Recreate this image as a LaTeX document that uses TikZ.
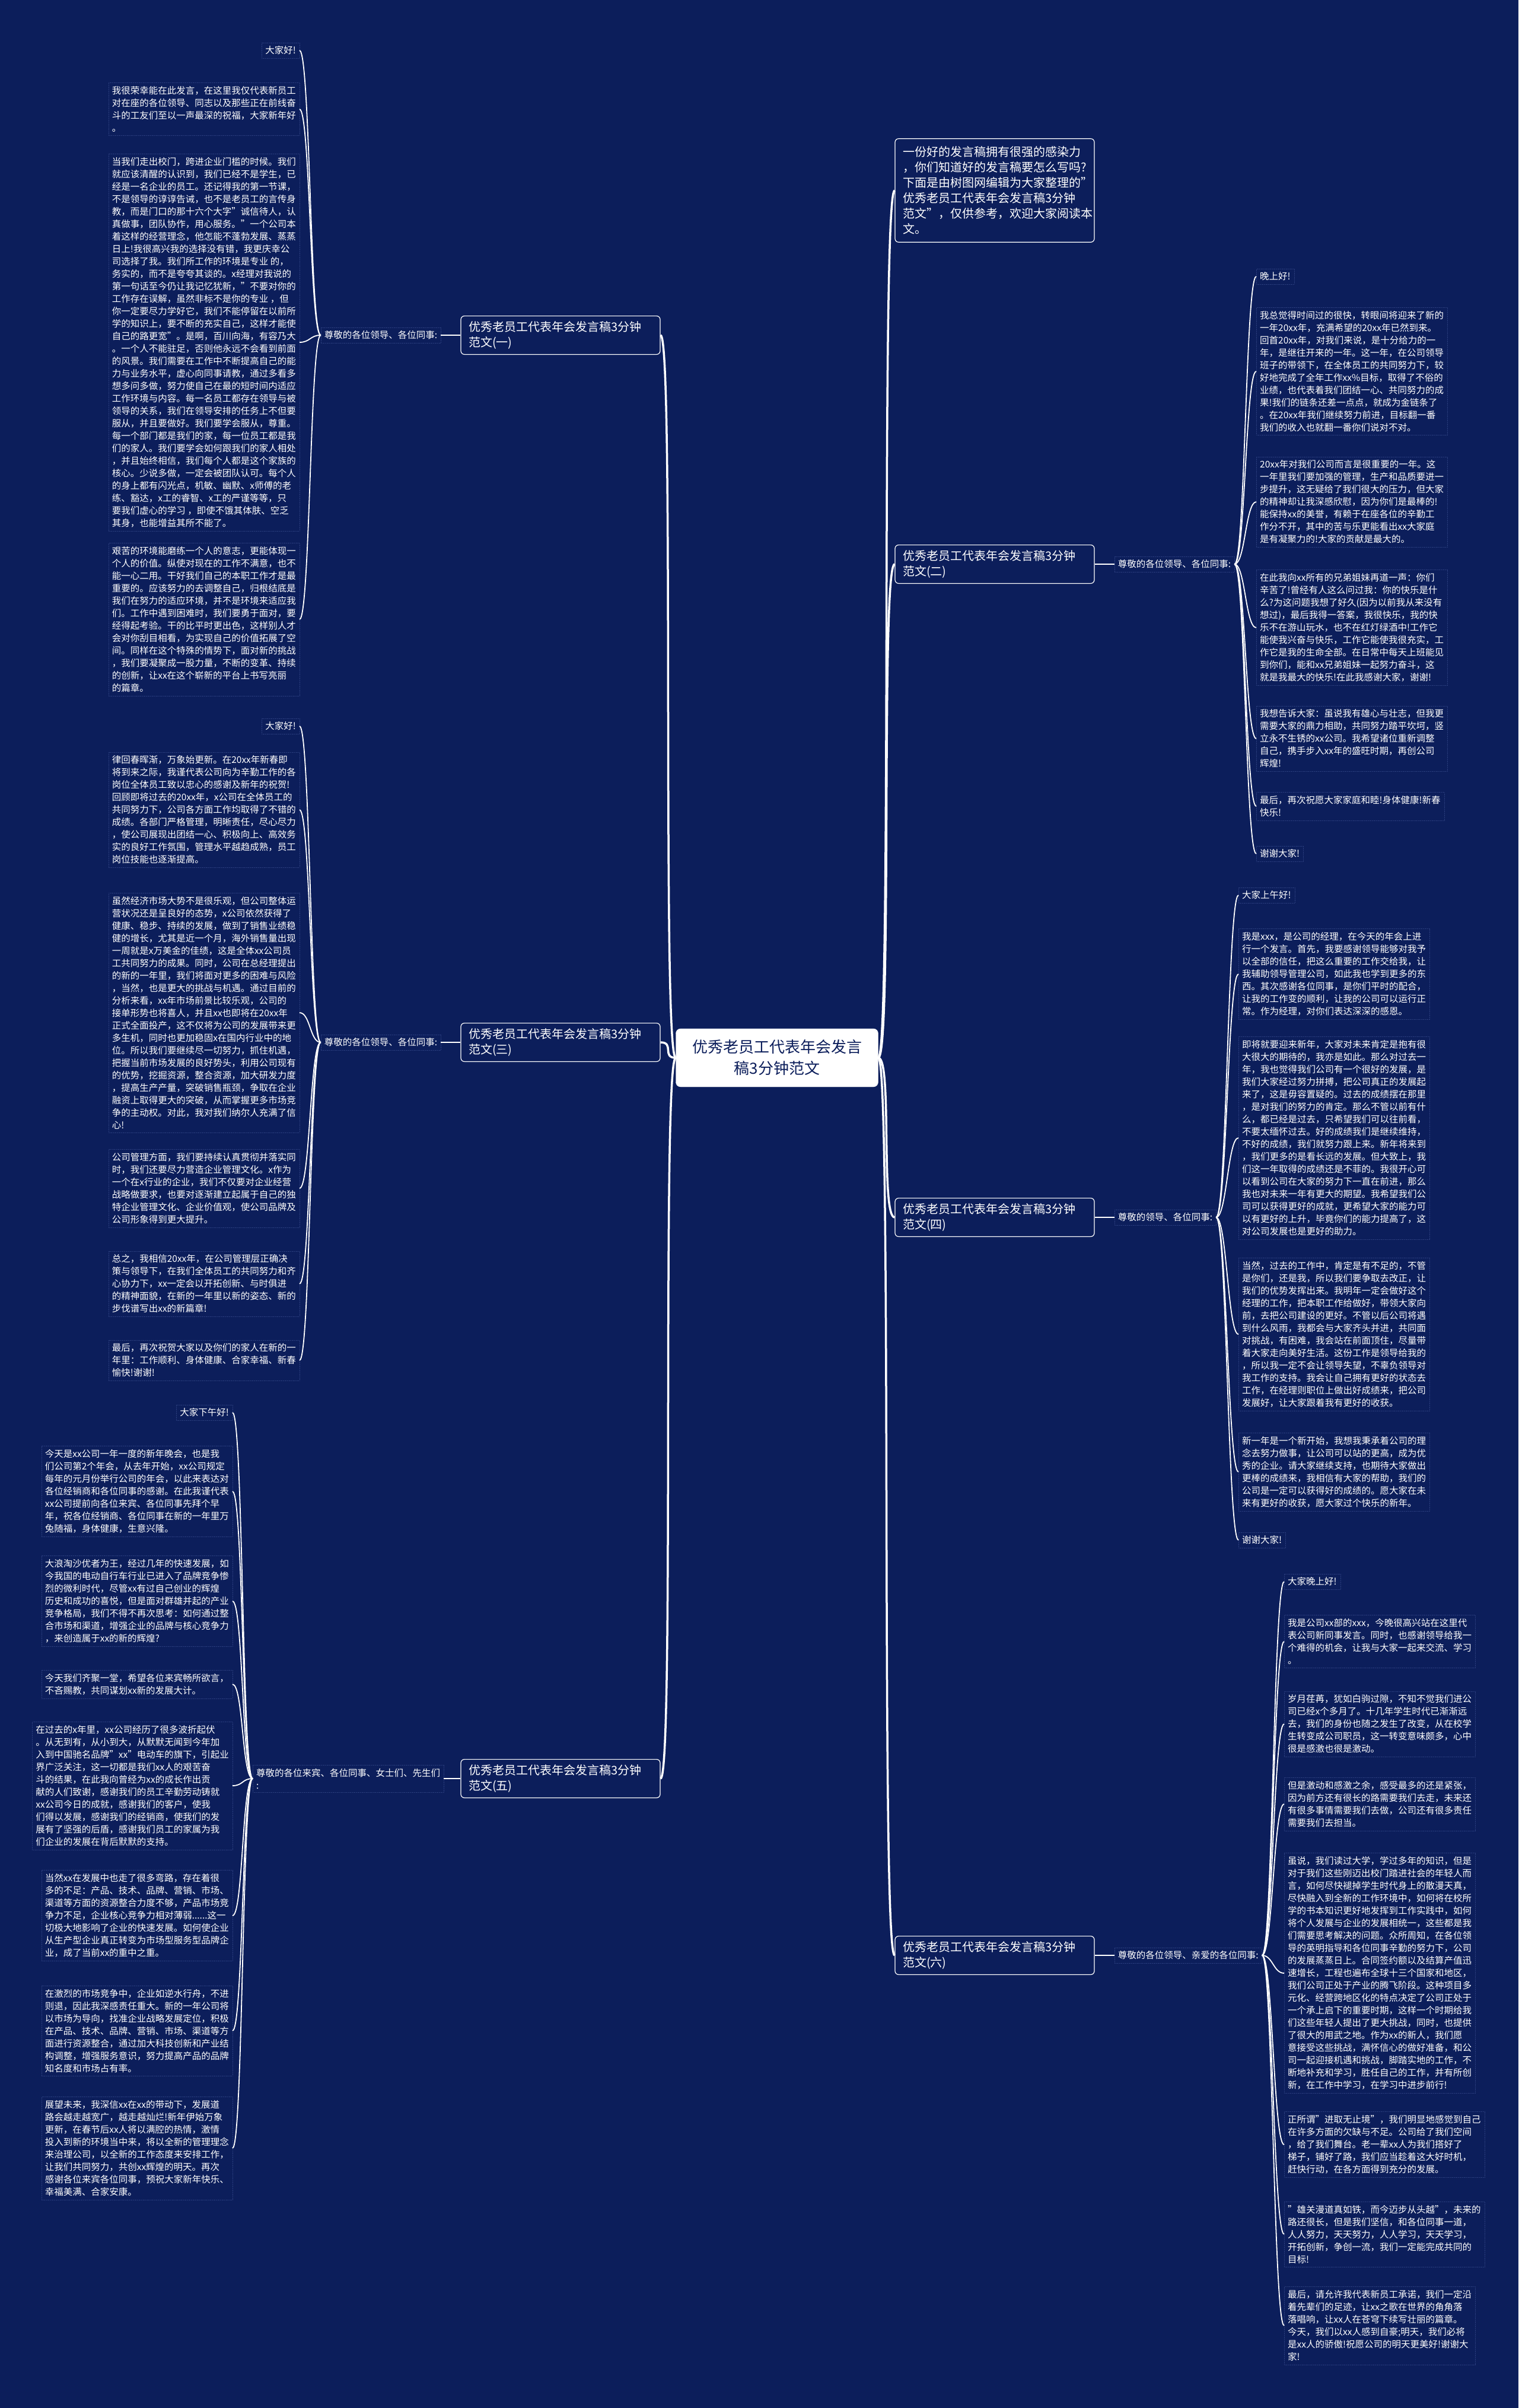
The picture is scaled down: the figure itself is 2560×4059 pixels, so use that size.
\documentclass[tikz,border=0pt]{standalone}
\usepackage{fontspec}
\setmainfont{Noto Sans CJK SC}
\usepackage{tikz}
\usetikzlibrary{positioning}
\definecolor{bg}{HTML}{0C1E5B}
\definecolor{edge}{HTML}{293C7C}

\begin{document}
\begin{tikzpicture}[x=1pt,y=-1pt]
		\tikzstyle{Root}	= [rectangle, rounded corners=8pt, draw=white, fill=white, text=bg, align=center, minimum width=341pt, minimum height=98pt, font=\fontsize{26}{36}\selectfont]
		\tikzstyle{Topic}	= [rectangle, rounded corners=6pt, draw=white, line width=1.2pt, fill=bg, text=white, align=left, text width=310pt, inner xsep=13pt, inner ysep=9pt, font=\fontsize{20}{26}\selectfont]
		\tikzstyle{Leaf}	= [rectangle, draw=edge, densely dotted, text=white, align=left, inner sep=6pt, font=\fontsize{15.5}{21}\selectfont]
		\tikzstyle{Trunk}	= [white, line width=3.5pt]
		\tikzstyle{Twig}	= [white, line width=1.8pt]

		\fill [bg] (0,0) rectangle (2560,4059);
		\useasboundingbox (0,0) rectangle (2560,4059);

		\node (root) at (1310,1783) [Root] {优秀老员工代表年会发言\\稿3分钟范文};

		\node (intro) at (1677,321) [Topic, inner ysep=13pt] {一份好的发言稿拥有很强的感染力\\，你们知道好的发言稿要怎么写吗?\\下面是由树图网编辑为大家整理的"\\优秀老员工代表年会发言稿3分钟\\范文"，仅供参考，欢迎大家阅读本\\文。};
		\node (b1) at (945,565) [Topic] {优秀老员工代表年会发言稿3分钟\\范文(一)};
		\node (b2) at (1677,951) [Topic] {优秀老员工代表年会发言稿3分钟\\范文(二)};
		\node (b3) at (945,1757) [Topic] {优秀老员工代表年会发言稿3分钟\\范文(三)};
		\node (b4) at (1677,2052) [Topic] {优秀老员工代表年会发言稿3分钟\\范文(四)};
		\node (b5) at (945,2998) [Topic] {优秀老员工代表年会发言稿3分钟\\范文(五)};
		\node (b6) at (1677,3296) [Topic] {优秀老员工代表年会发言稿3分钟\\范文(六)};

		\node (g1) [Leaf, left=33pt of b1] {尊敬的各位领导、各位同事:};
		\node (g2) [Leaf, right=33pt of b2] {尊敬的各位领导、各位同事:};
		\node (g3) [Leaf, left=33pt of b3] {尊敬的各位领导、各位同事:};
		\node (g4) [Leaf, right=33pt of b4] {尊敬的领导、各位同事:};
		\node (g5) [Leaf, left=28pt of b5] {尊敬的各位来宾、各位同事、女士们、先生们\\:};
		\node (g6) [Leaf, right=33pt of b6] {尊敬的各位领导、亲爱的各位同事:};

		% (一)
		\node (p1a) at (505,85) [Leaf, anchor=east] {大家好!};
		\node (p1b) at (505,184) [Leaf, anchor=east] {我很荣幸能在此发言，在这里我仅代表新员工\\对在座的各位领导、同志以及那些正在前线奋\\斗的工友们至以一声最深的祝福，大家新年好\\。};
		\node (p1c) at (505,577) [Leaf, anchor=east] {当我们走出校门，跨进企业门槛的时候。我们\\就应该清醒的认识到，我们已经不是学生，已\\经是一名企业的员工。还记得我的第一节课，\\不是领导的谆谆告诫，也不是老员工的言传身\\教，而是门口的那十六个大字"诚信待人，认\\真做事，团队协作，用心服务。"一个公司本\\着这样的经营理念，他怎能不蓬勃发展、蒸蒸\\日上!我很高兴我的选择没有错，我更庆幸公\\司选择了我。我们所工作的环境是专业 的，\\务实的，而不是夸夸其谈的。x经理对我说的\\第一句话至今仍让我记忆犹新，"不要对你的\\工作存在误解，虽然非标不是你的专业 ，但\\你一定要尽力学好它，我们不能停留在以前所\\学的知识上，要不断的充实自己，这样才能使\\自己的路更宽"。是啊，百川向海，有容乃大\\。一个人不能驻足，否则他永远不会看到前面\\的风景。我们需要在工作中不断提高自己的能\\力与业务水平，虚心向同事请教，通过多看多\\想多问多做，努力使自己在最的短时间内适应\\工作环境与内容。每一名员工都存在领导与被\\领导的关系，我们在领导安排的任务上不但要\\服从，并且要做好。我们要学会服从，尊重。\\每一个部门都是我们的家，每一位员工都是我\\们的家人。我们要学会如何跟我们的家人相处\\，并且始终相信，我们每个人都是这个家族的\\核心。少说多做，一定会被团队认可。每个人\\的身上都有闪光点，机敏、幽默、x师傅的老\\练、豁达，x工的睿智、x工的严谨等等，只\\要我们虚心的学习 ，即使不饿其体肤、空乏\\其身，也能增益其所不能了。};
		\node (p1d) at (505,1044) [Leaf, anchor=east] {艰苦的环境能磨练一个人的意志，更能体现一\\个人的价值。纵使对现在的工作不满意，也不\\能一心二用。干好我们自己的本职工作才是最\\重要的。应该努力的去调整自己，归根结底是\\我们在努力的适应环境，并不是环境来适应我\\们。工作中遇到困难时，我们要勇于面对，要\\经得起考验。干的比平时更出色，这样别人才\\会对你刮目相看，为实现自己的价值拓展了空\\间。同样在这个特殊的情势下，面对新的挑战\\，我们要凝聚成一股力量，不断的变革、持续\\的创新，让xx在这个崭新的平台上书写亮丽\\的篇章。};

		% (二)
		\node (p2a) at (2118,466) [Leaf, anchor=west] {晚上好!};
		\node (p2b) at (2118,626) [Leaf, anchor=west] {我总觉得时间过的很快，转眼间将迎来了新的\\一年20xx年，充满希望的20xx年已然到来。\\回首20xx年，对我们来说，是十分给力的一\\年，是继往开来的一年。这一年，在公司领导\\班子的带领下，在全体员工的共同努力下，较\\好地完成了全年工作xx\%目标，取得了不俗的\\业绩，也代表着我们团结一心、共同努力的成\\果!我们的链条还差一点点，就成为金链条了\\。在20xx年我们继续努力前进，目标翻一番\\我们的收入也就翻一番你们说对不对。};
		\node (p2c) at (2118,846) [Leaf, anchor=west] {20xx年对我们公司而言是很重要的一年。这\\一年里我们要加强的管理，生产和品质要进一\\步提升，这无疑给了我们很大的压力，但大家\\的精神却让我深感欣慰，因为你们是最棒的!\\能保持xx的美誉，有赖于在座各位的辛勤工\\作分不开，其中的苦与乐更能看出xx大家庭\\是有凝聚力的!大家的贡献是最大的。};
		\node (p2d) at (2118,1058) [Leaf, anchor=west] {在此我向xx所有的兄弟姐妹再道一声：你们\\辛苦了!曾经有人这么问过我：你的快乐是什\\么?为这问题我想了好久(因为以前我从来没有\\想过)，最后我得一答案，我很快乐，我的快\\乐不在游山玩水，也不在红灯绿酒中!工作它\\能使我兴奋与快乐，工作它能使我很充实，工\\作它是我的生命全部。在日常中每天上班能见\\到你们，能和xx兄弟姐妹一起努力奋斗，这\\就是我最大的快乐!在此我感谢大家，谢谢!};
		\node (p2e) at (2118,1245) [Leaf, anchor=west] {我想告诉大家：虽说我有雄心与壮志，但我更\\需要大家的鼎力相助，共同努力踏平坎坷，竖\\立永不生锈的xx公司。我希望诸位重新调整\\自己，携手步入xx年的盛旺时期，再创公司\\辉煌!};
		\node (p2f) at (2118,1359) [Leaf, anchor=west] {最后，再次祝愿大家家庭和睦!身体健康!新春\\快乐!};
		\node (p2g) at (2118,1439) [Leaf, anchor=west] {谢谢大家!};

		% (三)
		\node (p3a) at (505,1224) [Leaf, anchor=east] {大家好!};
		\node (p3b) at (505,1365) [Leaf, anchor=east] {律回春晖渐，万象始更新。在20xx年新春即\\将到来之际，我谨代表公司向为辛勤工作的各\\岗位全体员工致以忠心的感谢及新年的祝贺!\\回顾即将过去的20xx年，x公司在全体员工的\\共同努力下，公司各方面工作均取得了不错的\\成绩。各部门严格管理，明晰责任，尽心尽力\\，使公司展现出团结一心、积极向上、高效务\\实的良好工作氛围，管理水平越趋成熟，员工\\岗位技能也逐渐提高。};
		\node (p3c) at (505,1707) [Leaf, anchor=east] {虽然经济市场大势不是很乐观，但公司整体运\\营状况还是呈良好的态势，x公司依然获得了\\健康、稳步、持续的发展，做到了销售业绩稳\\健的增长，尤其是近一个月，海外销售量出现\\一周就是x万美金的佳绩，这是全体xx公司员\\工共同努力的成果。同时，公司在总经理提出\\的新的一年里，我们将面对更多的困难与风险\\，当然，也是更大的挑战与机遇。通过目前的\\分析来看，xx年市场前景比较乐观，公司的\\接单形势也将喜人，并且xx也即将在20xx年\\正式全面投产，这不仅将为公司的发展带来更\\多生机，同时也更加稳固x在国内行业中的地\\位。所以我们要继续尽一切努力，抓住机遇，\\把握当前市场发展的良好势头，利用公司现有\\的优势，挖掘资源，整合资源，加大研发力度\\，提高生产产量，突破销售瓶颈，争取在企业\\融资上取得更大的突破，从而掌握更多市场竞\\争的主动权。对此，我对我们纳尔人充满了信\\心!};
		\node (p3d) at (505,2003) [Leaf, anchor=east] {公司管理方面，我们要持续认真贯彻并落实同\\时，我们还要尽力营造企业管理文化。x作为\\一个在x行业的企业，我们不仅要对企业经营\\战略做要求，也要对逐渐建立起属于自己的独\\特企业管理文化、企业价值观，使公司品牌及\\公司形象得到更大提升。};
		\node (p3e) at (505,2164) [Leaf, anchor=east] {总之，我相信20xx年，在公司管理层正确决\\策与领导下，在我们全体员工的共同努力和齐\\心协力下，xx一定会以开拓创新、与时俱进\\的精神面貌，在新的一年里以新的姿态、新的\\步伐谱写出xx的新篇章!};
		\node (p3f) at (505,2293) [Leaf, anchor=east] {最后，再次祝贺大家以及你们的家人在新的一\\年里：工作顺利、身体健康、合家幸福、新春\\愉快!谢谢!};

		% (四)
		\node (p4a) at (2088,1509) [Leaf, anchor=west] {大家上午好!};
		\node (p4b) at (2088,1642) [Leaf, anchor=west] {我是xxx，是公司的经理，在今天的年会上进\\行一个发言。首先，我要感谢领导能够对我予\\以全部的信任，把这么重要的工作交给我，让\\我辅助领导管理公司，如此我也学到更多的东\\西。其次感谢各位同事，是你们平时的配合，\\让我的工作变的顺利，让我的公司可以运行正\\常。作为经理，对你们表达深深的感恩。};
		\node (p4c) at (2088,1918) [Leaf, anchor=west] {即将就要迎来新年，大家对未来肯定是抱有很\\大很大的期待的，我亦是如此。那么对过去一\\年，我也觉得我们公司有一个很好的发展，是\\我们大家经过努力拼搏，把公司真正的发展起\\来了，这是毋容置疑的。过去的成绩摆在那里\\，是对我们的努力的肯定。那么不管以前有什\\么，都已经是过去，只希望我们可以往前看，\\不要太缅怀过去。好的成绩我们是继续维持，\\不好的成绩，我们就努力跟上来。新年将来到\\，我们更多的是看长远的发展。但大致上，我\\们这一年取得的成绩还是不菲的。我很开心可\\以看到公司在大家的努力下一直在前进，那么\\我也对未来一年有更大的期望。我希望我们公\\司可以获得更好的成就，更希望大家的能力可\\以有更好的上升，毕竟你们的能力提高了，这\\对公司发展也是更好的助力。};
		\node (p4d) at (2088,2249) [Leaf, anchor=west] {当然，过去的工作中，肯定是有不足的，不管\\是你们，还是我，所以我们要争取去改正，让\\我们的优势发挥出来。我明年一定会做好这个\\经理的工作，把本职工作给做好，带领大家向\\前，去把公司建设的更好。不管以后公司将遇\\到什么风雨，我都会与大家齐头并进，共同面\\对挑战，有困难，我会站在前面顶住，尽量带\\着大家走向美好生活。这份工作是领导给我的\\，所以我一定不会让领导失望，不辜负领导对\\我工作的支持。我会让自己拥有更好的状态去\\工作，在经理则职位上做出好成绩来，把公司\\发展好，让大家跟着我有更好的收获。};
		\node (p4e) at (2088,2481) [Leaf, anchor=west] {新一年是一个新开始，我想我秉承着公司的理\\念去努力做事，让公司可以站的更高，成为优\\秀的企业。请大家继续支持，也期待大家做出\\更棒的成绩来，我相信有大家的帮助，我们的\\公司是一定可以获得好的成绩的。愿大家在未\\来有更好的收获，愿大家过个快乐的新年。};
		\node (p4f) at (2088,2596) [Leaf, anchor=west] {谢谢大家!};

		% (五)
		\node (p5a) at (392,2381) [Leaf, anchor=east] {大家下午好!};
		\node (p5b) at (392,2514) [Leaf, anchor=east] {今天是xx公司一年一度的新年晚会，也是我\\们公司第2个年会，从去年开始，xx公司规定\\每年的元月份举行公司的年会，以此来表达对\\各位经销商和各位同事的感谢。在此我谨代表\\xx公司提前向各位来宾、各位同事先拜个早\\年，祝各位经销商、各位同事在新的一年里万\\兔随福，身体健康，生意兴隆。};
		\node (p5c) at (392,2699) [Leaf, anchor=east] {大浪淘沙优者为王，经过几年的快速发展，如\\今我国的电动自行车行业已进入了品牌竞争惨\\烈的微利时代，尽管xx有过自己创业的辉煌\\历史和成功的喜悦，但是面对群雄并起的产业\\竞争格局，我们不得不再次思考：如何通过整\\合市场和渠道，增强企业的品牌与核心竞争力\\，来创造属于xx的新的辉煌?};
		\node (p5d) at (392,2839) [Leaf, anchor=east] {今天我们齐聚一堂，希望各位来宾畅所欲言，\\不吝赐教，共同谋划xx新的发展大计。};
		\node (p5e) at (392,3010) [Leaf, anchor=east] {在过去的x年里，xx公司经历了很多波折起伏\\。从无到有，从小到大，从默默无闻到今年加\\入到中国驰名品牌"xx"电动车的旗下，引起业\\界广泛关注，这一切都是我们xx人的艰苦奋\\斗的结果，在此我向曾经为xx的成长作出贡\\献的人们致谢，感谢我们的员工辛勤劳动铸就\\xx公司今日的成就，感谢我们的客户，使我\\们得以发展，感谢我们的经销商，使我们的发\\展有了坚强的后盾，感谢我们员工的家属为我\\们企业的发展在背后默默的支持。};
		\node (p5f) at (392,3229) [Leaf, anchor=east] {当然xx在发展中也走了很多弯路，存在着很\\多的不足：产品、技术、品牌、营销、市场、\\渠道等方面的资源整合力度不够，产品市场竞\\争力不足，企业核心竞争力相对薄弱......这一\\切极大地影响了企业的快速发展。如何使企业\\从生产型企业真正转变为市场型服务型品牌企\\业，成了当前xx的重中之重。};
		\node (p5g) at (392,3423) [Leaf, anchor=east] {在激烈的市场竞争中，企业如逆水行舟，不进\\则退，因此我深感责任重大。新的一年公司将\\以市场为导向，找准企业战略发展定位，积极\\在产品、技术、品牌、营销、市场、渠道等方\\面进行资源整合，通过加大科技创新和产业结\\构调整，增强服务意识，努力提高产品的品牌\\知名度和市场占有率。};
		\node (p5h) at (392,3621) [Leaf, anchor=east] {展望未来，我深信xx在xx的带动下，发展道\\路会越走越宽广，越走越灿烂!新年伊始万象\\更新，在春节后xx人将以满腔的热情，激情\\投入到新的环境当中来，将以全新的管理理念\\来治理公司，以全新的工作态度来安排工作，\\让我们共同努力，共创xx辉煌的明天。再次\\感谢各位来宾各位同事，预祝大家新年快乐、\\幸福美满、合家安康。};

		% (六)
		\node (p6a) at (2165,2666) [Leaf, anchor=west] {大家晚上好!};
		\node (p6b) at (2165,2767) [Leaf, anchor=west] {我是公司xx部的xxx，今晚很高兴站在这里代\\表公司新同事发言。同时，也感谢领导给我一\\个难得的机会，让我与大家一起来交流、学习\\。};
		\node (p6c) at (2165,2906) [Leaf, anchor=west] {岁月荏苒，犹如白驹过隙，不知不觉我们进公\\司已经x个多月了。十几年学生时代已渐渐远\\去，我们的身份也随之发生了改变，从在校学\\生转变成公司职员，这一转变意味颇多，心中\\很是感激也很是激动。};
		\node (p6d) at (2165,3041) [Leaf, anchor=west] {但是激动和感激之余，感受最多的还是紧张，\\因为前方还有很长的路需要我们去走，未来还\\有很多事情需要我们去做，公司还有很多责任\\需要我们去担当。};
		\node (p6e) at (2165,3326) [Leaf, anchor=west] {虽说，我们读过大学，学过多年的知识，但是\\对于我们这些刚迈出校门踏进社会的年轻人而\\言，如何尽快褪掉学生时代身上的散漫天真，\\尽快融入到全新的工作环境中，如何将在校所\\学的书本知识更好地发挥到工作实践中，如何\\将个人发展与企业的发展相统一，这些都是我\\们需要思考解决的问题。众所周知，在各位领\\导的英明指导和各位同事辛勤的努力下，公司\\的发展蒸蒸日上。合同签约额以及结算产值迅\\速增长，工程也遍布全球十三个国家和地区，\\我们公司正处于产业的腾飞阶段。这种项目多\\元化、经营跨地区化的特点决定了公司正处于\\一个承上启下的重要时期，这样一个时期给我\\们这些年轻人提出了更大挑战，同时，也提供\\了很大的用武之地。作为xx的新人，我们愿\\意接受这些挑战，满怀信心的做好准备，和公\\司一起迎接机遇和挑战，脚踏实地的工作，不\\断地补充和学习，胜任自己的工作，并有所创\\新，在工作中学习，在学习中进步前行!};
		\node (p6f) at (2165,3615) [Leaf, anchor=west] {正所谓"进取无止境"，我们明显地感觉到自己\\在许多方面的欠缺与不足。公司给了我们空间\\，给了我们舞台。老一辈xx人为我们搭好了\\梯子，铺好了路，我们应当趁着这大好时机，\\赶快行动，在各方面得到充分的发展。};
		\node (p6g) at (2165,3766) [Leaf, anchor=west] {"雄关漫道真如铁，而今迈步从头越"，未来的\\路还很长，但是我们坚信，和各位同事一道，\\人人努力，天天努力，人人学习，天天学习，\\开拓创新，争创一流，我们一定能完成共同的\\目标!};
		\node (p6h) at (2165,3920) [Leaf, anchor=west] {最后，请允许我代表新员工承诺，我们一定沿\\着先辈们的足迹，让xx之歌在世界的角角落\\落唱响，让xx人在苍穹下续写壮丽的篇章。\\今天，我们以xx人感到自豪;明天，我们必将\\是xx人的骄傲!祝愿公司的明天更美好!谢谢大\\家!};

		% root to topics
		\draw [-] (root.west) .. controls +(-24,0) and +(24,0) .. (b1.east) [Trunk];
		\draw [-] (root.west) .. controls +(-24,0) and +(24,0) .. (b3.east) [Trunk];
		\draw [-] (root.west) .. controls +(-24,0) and +(24,0) .. (b5.east) [Trunk];
		\draw [-] (root.east) .. controls +(24,0) and +(-24,0) .. (intro.west) [Trunk];
		\draw [-] (root.east) .. controls +(24,0) and +(-24,0) .. (b2.west) [Trunk];
		\draw [-] (root.east) .. controls +(24,0) and +(-24,0) .. (b4.west) [Trunk];
		\draw [-] (root.east) .. controls +(24,0) and +(-24,0) .. (b6.west) [Trunk];

		% topics to greetings
		\draw [-] (b1.west) to (g1.east) [Twig];
		\draw [-] (b2.east) to (g2.west) [Twig];
		\draw [-] (b3.west) to (g3.east) [Twig];
		\draw [-] (b4.east) to (g4.west) [Twig];
		\draw [-] (b5.west) to (g5.east) [Twig];
		\draw [-] (b6.east) to (g6.west) [Twig];

		% greetings to paragraphs
		\draw [-] (g1.west) .. controls +(-18,0) and +(18,0) .. (p1a.east) [Twig];
		\draw [-] (g1.west) .. controls +(-18,0) and +(18,0) .. (p1b.east) [Twig];
		\draw [-] (g1.west) .. controls +(-18,0) and +(18,0) .. (p1c.east) [Twig];
		\draw [-] (g1.west) .. controls +(-18,0) and +(18,0) .. (p1d.east) [Twig];

		\draw [-] (g2.east) .. controls +(18,0) and +(-18,0) .. (p2a.west) [Twig];
		\draw [-] (g2.east) .. controls +(18,0) and +(-18,0) .. (p2b.west) [Twig];
		\draw [-] (g2.east) .. controls +(18,0) and +(-18,0) .. (p2c.west) [Twig];
		\draw [-] (g2.east) .. controls +(18,0) and +(-18,0) .. (p2d.west) [Twig];
		\draw [-] (g2.east) .. controls +(18,0) and +(-18,0) .. (p2e.west) [Twig];
		\draw [-] (g2.east) .. controls +(18,0) and +(-18,0) .. (p2f.west) [Twig];
		\draw [-] (g2.east) .. controls +(18,0) and +(-18,0) .. (p2g.west) [Twig];

		\draw [-] (g3.west) .. controls +(-18,0) and +(18,0) .. (p3a.east) [Twig];
		\draw [-] (g3.west) .. controls +(-18,0) and +(18,0) .. (p3b.east) [Twig];
		\draw [-] (g3.west) .. controls +(-18,0) and +(18,0) .. (p3c.east) [Twig];
		\draw [-] (g3.west) .. controls +(-18,0) and +(18,0) .. (p3d.east) [Twig];
		\draw [-] (g3.west) .. controls +(-18,0) and +(18,0) .. (p3e.east) [Twig];
		\draw [-] (g3.west) .. controls +(-18,0) and +(18,0) .. (p3f.east) [Twig];

		\draw [-] (g4.east) .. controls +(18,0) and +(-18,0) .. (p4a.west) [Twig];
		\draw [-] (g4.east) .. controls +(18,0) and +(-18,0) .. (p4b.west) [Twig];
		\draw [-] (g4.east) .. controls +(18,0) and +(-18,0) .. (p4c.west) [Twig];
		\draw [-] (g4.east) .. controls +(18,0) and +(-18,0) .. (p4d.west) [Twig];
		\draw [-] (g4.east) .. controls +(18,0) and +(-18,0) .. (p4e.west) [Twig];
		\draw [-] (g4.east) .. controls +(18,0) and +(-18,0) .. (p4f.west) [Twig];

		\draw [-] (g5.west) .. controls +(-18,0) and +(18,0) .. (p5a.east) [Twig];
		\draw [-] (g5.west) .. controls +(-18,0) and +(18,0) .. (p5b.east) [Twig];
		\draw [-] (g5.west) .. controls +(-18,0) and +(18,0) .. (p5c.east) [Twig];
		\draw [-] (g5.west) .. controls +(-18,0) and +(18,0) .. (p5d.east) [Twig];
		\draw [-] (g5.west) .. controls +(-18,0) and +(18,0) .. (p5e.east) [Twig];
		\draw [-] (g5.west) .. controls +(-18,0) and +(18,0) .. (p5f.east) [Twig];
		\draw [-] (g5.west) .. controls +(-18,0) and +(18,0) .. (p5g.east) [Twig];
		\draw [-] (g5.west) .. controls +(-18,0) and +(18,0) .. (p5h.east) [Twig];

		\draw [-] (g6.east) .. controls +(18,0) and +(-18,0) .. (p6a.west) [Twig];
		\draw [-] (g6.east) .. controls +(18,0) and +(-18,0) .. (p6b.west) [Twig];
		\draw [-] (g6.east) .. controls +(18,0) and +(-18,0) .. (p6c.west) [Twig];
		\draw [-] (g6.east) .. controls +(18,0) and +(-18,0) .. (p6d.west) [Twig];
		\draw [-] (g6.east) .. controls +(18,0) and +(-18,0) .. (p6e.west) [Twig];
		\draw [-] (g6.east) .. controls +(18,0) and +(-18,0) .. (p6f.west) [Twig];
		\draw [-] (g6.east) .. controls +(18,0) and +(-18,0) .. (p6g.west) [Twig];
		\draw [-] (g6.east) .. controls +(18,0) and +(-18,0) .. (p6h.west) [Twig];
	\end{tikzpicture}
\end{document}
